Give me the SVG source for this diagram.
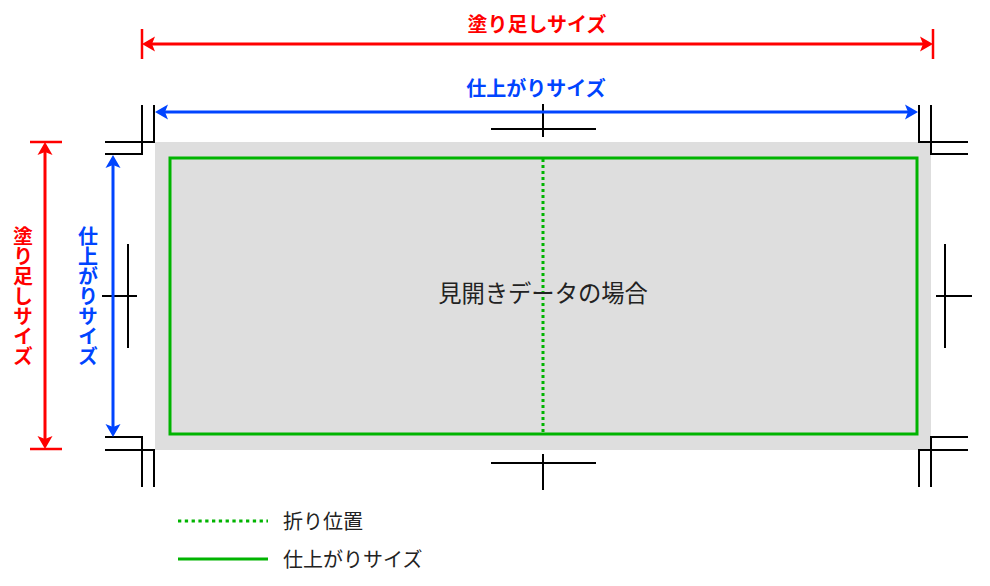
<svg xmlns="http://www.w3.org/2000/svg" width="990" height="586" viewBox="0 0 990 586">
<style>
.crop{fill:none;stroke:#000;stroke-width:2}
.red{stroke:#ff0000;stroke-width:3;fill:none}
.redtick{stroke:#ff0000;stroke-width:2.5}
.blue{stroke:#0044ff;stroke-width:3;fill:none}
.lbl{font-family:"Noto Sans CJK JP","Noto Sans",sans-serif;font-weight:bold;font-size:20px}
.txt{font-family:"Noto Sans CJK JP","Noto Sans",sans-serif;fill:#222}
</style>
<defs>
<marker id="ar" markerUnits="userSpaceOnUse" viewBox="-10 -10 20 20" markerWidth="20" markerHeight="20" refX="0" refY="0" orient="auto-start-reverse">
<path d="M8,0 L-5,-7.5 L-2,0 L-5,7.5 Z" fill="#ff0000"/>
</marker>
<marker id="ab" markerUnits="userSpaceOnUse" viewBox="-10 -10 20 20" markerWidth="20" markerHeight="20" refX="0" refY="0" orient="auto-start-reverse">
<path d="M8,0 L-5,-7.5 L-2,0 L-5,7.5 Z" fill="#0044ff"/>
</marker>
</defs>
<rect width="990" height="586" fill="#fff"/>
<g id="sheet">
<rect x="155" y="142" width="776" height="308" fill="#dedede"/>
<rect x="170" y="158" width="747" height="276" fill="none" stroke="#00b400" stroke-width="3"/>
<line x1="543" y1="159" x2="543" y2="433" stroke="#00b400" stroke-width="3" stroke-dasharray="3 3"/>
<text class="txt" x="543" y="302" font-size="23.3" text-anchor="middle">見開きデータの場合</text>
</g>
<g id="crop-marks">
<path class="crop" d="M154,105 V142 H105 M142,105 V154 H105"/>
<path class="crop" d="M919,105 V142 H968 M931,105 V154 H968"/>
<path class="crop" d="M105,437 H142 V487 M105,450 H154 V487"/>
<path class="crop" d="M968,437 H931 V487 M968,450 H919 V487"/>
<path class="crop" d="M543,104 V137 M491,129 H596"/>
<path class="crop" d="M543,454 V490 M491,463 H596"/>
<path class="crop" d="M128,244 V348 M102,296 H137"/>
<path class="crop" d="M945,244 V348 M936,296 H972"/>
</g>
<g id="connectors">
<line class="red" x1="150" y1="44" x2="925" y2="44" marker-start="url(#ar)" marker-end="url(#ar)"/>
<line class="redtick" x1="142" y1="29" x2="142" y2="59"/>
<line class="redtick" x1="933" y1="29" x2="933" y2="59"/>
<line class="red" x1="45" y1="150" x2="45" y2="441" marker-start="url(#ar)" marker-end="url(#ar)"/>
<line class="redtick" x1="30" y1="142" x2="62" y2="142"/>
<line class="redtick" x1="30" y1="449" x2="62" y2="449"/>
<line class="blue" x1="163" y1="112" x2="910" y2="112" marker-start="url(#ab)" marker-end="url(#ab)"/>
<line class="blue" x1="113" y1="163" x2="113" y2="429" marker-start="url(#ab)" marker-end="url(#ab)"/>
</g>
<g id="labels">
<text class="lbl" x="537" y="32" fill="#ff0000" text-anchor="middle">塗り足しサイズ</text>
<text class="lbl" x="536" y="96" fill="#0044ff" text-anchor="middle">仕上がりサイズ</text>
<text class="lbl" x="23" y="296" fill="#ff0000" text-anchor="middle" writing-mode="vertical-rl" style="writing-mode:vertical-rl">塗り足しサイズ</text>
<text class="lbl" x="88" y="296" fill="#0044ff" text-anchor="middle" writing-mode="vertical-rl" style="writing-mode:vertical-rl">仕上がりサイズ</text>
</g>
<g id="legend">
<line x1="178" y1="521" x2="268" y2="521" stroke="#00b400" stroke-width="3" stroke-dasharray="3.3 3.5"/>
<text class="txt" x="283" y="529" font-size="20">折り位置</text>
<line x1="178" y1="559" x2="268" y2="559" stroke="#00b400" stroke-width="3"/>
<text class="txt" x="283" y="567" font-size="20">仕上がりサイズ</text>
</g>
</svg>
